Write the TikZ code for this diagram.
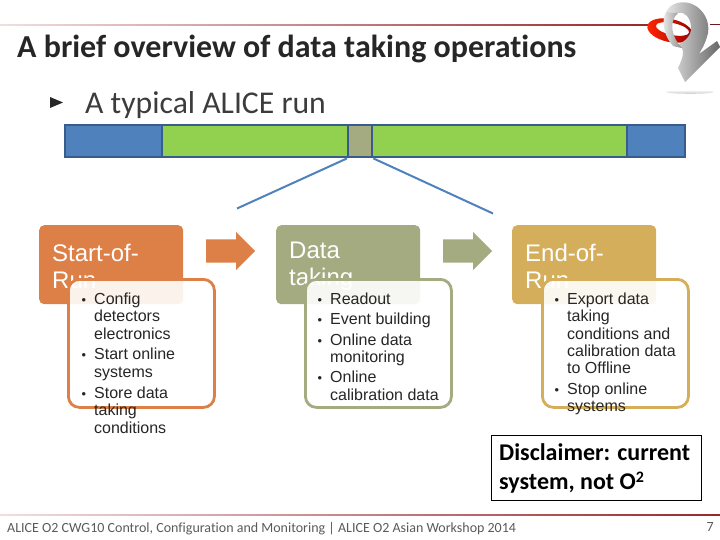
\documentclass[tikz,border=0pt]{standalone}
\usepackage{fontspec}
\setmainfont{Carlito}[Ligatures=CommonOff]
\setsansfont{Liberation Sans}
\usetikzlibrary{shapes.arrows, positioning}
\definecolor{runBlue}{RGB}{79,129,189}
\definecolor{runBorder}{RGB}{56,93,138}
\definecolor{runGreen}{RGB}{146,208,80}
\definecolor{startOrange}{RGB}{221,128,71}
\definecolor{takingOlive}{RGB}{165,171,129}
\definecolor{endGold}{RGB}{213,174,92}
\definecolor{ruleRed}{RGB}{150,40,45}
\definecolor{titleGray}{RGB}{38,38,38}
\definecolor{footGray}{RGB}{90,90,90}
\newcommand{\itembul}{\llap{\scalebox{0.8}{\textbullet}\hspace{8pt}}}

\begin{document}
\begin{tikzpicture}[
    x=1pt, y=-1pt,
    barseg/.style={draw=runBorder, line width=2.4pt, minimum height=32pt, inner sep=0pt, anchor=north west},
    headbox/.style={rounded corners=5pt, minimum width=144pt, minimum height=79pt, inner sep=0pt, anchor=north west},
    headtext/.style={text width=118pt, inner sep=0pt, align=left, text=white, font=\sffamily\fontsize{24}{27}\selectfont},
    subbox/.style={draw, line width=2.8pt, rounded corners=11pt, fill=white, fill opacity=0.9, minimum width=146pt, minimum height=128pt, inner sep=0pt, anchor=north west},
    subtext/.style={anchor=north west, inner sep=0pt, align=left, text=black!85, font=\sffamily\fontsize{16}{17.4}\selectfont},
    blockarrow/.style={single arrow, inner xsep=0pt, inner ysep=11.5pt, minimum height=49pt, single arrow head extend=7.5pt, single arrow tip angle=90, anchor=west},
    fanline/.style={draw=runBlue, line width=2pt}
]
\useasboundingbox (0,0) rectangle (720,540);

\shade[left color=ruleRed!15, right color=ruleRed] (0,25) rectangle (650,26);
\fill[ruleRed!70!black] (710,24.5) rectangle (720,25.5);
\node[anchor=base west, inner sep=0pt, text=titleGray, font=\bfseries\fontsize{32}{36}\selectfont] (title) at (17,58) {A brief overview of data taking operations};

% logo
\shade[top color=black!3, bottom color=black!35, opacity=0.6] (690,92) ellipse (24 and 1.8);
\shade[left color=red!70!orange, right color=red!60!black, even odd rule] (670,30.5) ellipse [x radius=23, y radius=11.5, rotate=-12] (672.5,29) ellipse [x radius=17, y radius=6, rotate=-12];
\shade[left color=black!10, right color=black!60] (673,46) .. controls (690,42) and (692,30) .. (691,26) .. controls (690,17) and (684,11) .. (678,13) -- (666,12) .. controls (670,3) and (682,0) .. (692,4) .. controls (704,9) and (710,22) .. (708,33) .. controls (706,42) and (702,49) .. (699,54) -- (717,41) -- (720,47) -- (685,82) -- (678,68) .. controls (683,58) and (684,52) .. (682,48) -- cycle;
\shade[left color=black!5, right color=black!45] (666,12) .. controls (661,22) and (664,36) .. (673,46) -- (682,48) .. controls (672,38) and (668,22) .. (678,13) -- cycle;

\fill[titleGray] (50,97) -- (63,102.5) -- (50,108) -- cycle;
\node[anchor=base west, inner sep=0pt, text=titleGray!90, font=\fontsize{31.7}{36}\selectfont] (subtitle) at (85,114) {A typical ALICE run};

\node[barseg, fill=runBlue, minimum width=97pt] (blueA) at (64,124) {};
\node[barseg, fill=runGreen, minimum width=186pt] (greenA) at (161,124) {};
\node[barseg, fill=takingOlive, minimum width=24pt] (oliveA) at (347,124) {};
\node[barseg, fill=runGreen, minimum width=255pt] (greenB) at (371,124) {};
\node[barseg, fill=runBlue, minimum width=58pt] (blueB) at (626,124) {};

\coordinate (fanL) at (237,208.5);
\coordinate (fanR) at (493,213.5);
\draw[fanline] (oliveA.south west) -- (fanL);
\draw[fanline] (oliveA.south east) -- (fanR);

\node[headbox, fill=startOrange] (startH) at (39,225) {};
\node[headtext, right=13pt of startH.west, yshift=-2pt] (startT) {Start-of-\\Run};
\node[subbox, draw=startOrange] (startB) at (67,278) {};
\node[subtext] (startL) at (94,292.5) {\itembul Config\\detectors\\electronics\\[3.5pt]\itembul Start online\\systems\\[3.5pt]\itembul Store data\\taking\\conditions};

\node[headbox, fill=takingOlive] (takingH) at (276,225) {};
\node[headtext, right=13pt of takingH.west, yshift=-2pt] (takingT) {Data\\taking};
\node[subbox, draw=takingOlive] (takingB) at (304,278) {};
\node[subtext] (takingL) at (330,292.5) {\itembul Readout\\[3pt]\itembul Event building\\[3pt]\itembul Online data\\monitoring\\[3pt]\itembul Online\\calibration data};

\node[headbox, fill=endGold] (endH) at (512,225) {};
\node[headtext, right=13pt of endH.west, yshift=-2pt] (endT) {End-of-\\Run};
\node[subbox, draw=endGold] (endB) at (541,278) {};
\node[subtext] (endL) at (567,292.5) {\itembul Export data\\taking\\conditions and\\calibration data\\to Offline\\[3pt]\itembul Stop online\\systems};

\node[blockarrow, fill=startOrange] (startA) at (206,251) {};
\node[blockarrow, fill=takingOlive] (takingA) at (443,251) {};

\node[draw=black, line width=0.8pt, minimum width=210pt, minimum height=65pt, inner sep=0pt, anchor=north west] (disclaimer) at (491,434.5) {};
\node[anchor=west, inner sep=0pt, align=left, font=\bfseries\fontsize{24}{29}\selectfont] (disclaimerT) at (499,468) {Disclaimer: current\\system, not O{\fontsize{16}{16}\selectfont\raisebox{7pt}{2}}};

\shade[left color=ruleRed!15, right color=ruleRed] (0,514.5) rectangle (720,515.5);
\node[anchor=base west, inner sep=0pt, text=footGray, font=\fontsize{14}{16}\selectfont] (footer) at (7,532) {ALICE O2 CWG10 Control, Configuration and Monitoring | ALICE O2 Asian Workshop 2014};
\node[anchor=base east, inner sep=0pt, text=footGray, font=\fontsize{14}{16}\selectfont] (pagenum) at (714,531) {7};
\end{tikzpicture}
\end{document}
